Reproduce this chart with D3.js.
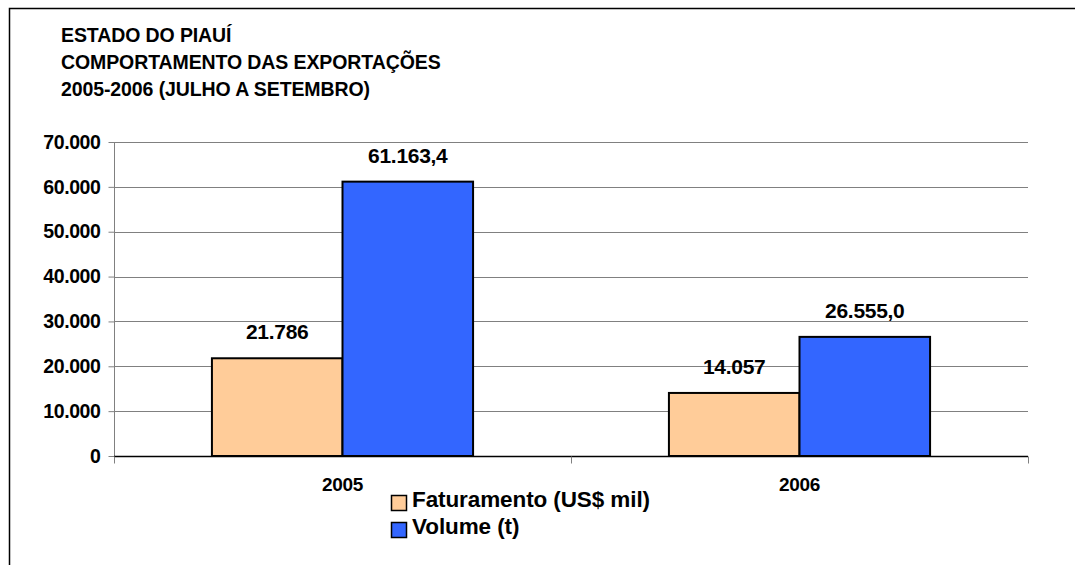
<!DOCTYPE html>
<html>
<head>
<meta charset="utf-8">
<script src="https://cdn.jsdelivr.net/npm/d3@7"></script>
<style>
    body { margin: 0; background: #fff; }
    svg { display: block; font-family: "Liberation Sans", Arial, sans-serif; }
</style>
</head>
<body>
<svg id="chart" width="1075" height="565"></svg>
<script>
const titleLines = ["ESTADO DO PIAUÍ", "COMPORTAMENTO DAS EXPORTAÇÕES", "2005-2006 (JULHO A SETEMBRO)"];
const years = ["2005", "2006"];
const seriesNames = ["Faturamento (US$ mil)", "Volume (t)"];
const faturamento = [21786, 14057];
const volume = [61163.4, 26555.0];
const valueLabels = [["21.786", "14.057"], ["61.163,4", "26.555,0"]];
const yTicks = [0, 10000, 20000, 30000, 40000, 50000, 60000, 70000];
const colors = ["#FFCC99", "#3366FF"];

const svg = d3.select("#chart");
const fmt = d3.formatLocale({ decimal: ",", thousands: ".", grouping: [3], currency: ["", ""] }).format(",");

// outer frame (only top and left edges are visible)
svg.append("path").attr("d", "M9.5,565 L9.5,8.5 L1075,8.5").attr("fill", "none").attr("stroke", "#000").attr("stroke-width", 1.5);

// title
svg.append("g").selectAll("text").data(titleLines).join("text")
    .attr("x", 61).attr("y", (d, i) => 42 + i * 27)
    .attr("font-size", "19.5px").attr("font-weight", "bold").attr("letter-spacing", "-0.1px")
    .text(d => d);

const margin = { left: 114, right: 1028, top: 142, bottom: 456 };

const x0 = d3.scaleBand().domain(years).range([margin.left, margin.right]);
// Excel gap width 150%: band = 3.5 bar widths
const x1 = d3.scaleBand().domain([0, 1])
    .range([x0.bandwidth() * 0.75 / 3.5, x0.bandwidth() * 2.75 / 3.5]);
const y = d3.scaleLinear().domain([0, 70000]).range([margin.bottom, margin.top]);

// gridlines
svg.append("g").selectAll("line").data(yTicks.filter(d => d > 0)).join("line")
    .attr("x1", margin.left).attr("x2", margin.right)
    .attr("y1", d => Math.round(y(d)) + 0.5).attr("y2", d => Math.round(y(d)) + 0.5)
    .attr("stroke", "#808080").attr("stroke-width", 1);

// y axis
const yAxis = svg.append("g").attr("transform", `translate(${margin.left + 0.5},0)`)
    .call(d3.axisLeft(y).tickValues(yTicks).tickFormat(fmt).tickSize(6).tickPadding(8));
yAxis.select(".domain").attr("stroke", "#808080").attr("d", `M0,${margin.top}V${margin.bottom + 7}`);
yAxis.selectAll(".tick line").attr("stroke", "#808080");
yAxis.selectAll("text").attr("font-size", "19.5px").attr("font-weight", "bold").attr("fill", "#000")
    .attr("font-family", "Liberation Sans, Arial, sans-serif").attr("letter-spacing", "-0.4px");

// bars
const data = years.map((yr, i) => ({ yr, vals: [faturamento[i], volume[i]] }));
const groups = svg.append("g").selectAll("g").data(data).join("g")
    .attr("transform", d => `translate(${x0(d.yr)},0)`);
groups.selectAll("rect").data(d => d.vals.map((v, s) => ({ v, s }))).join("rect")
    .attr("x", d => x1(d.s)).attr("width", x1.bandwidth())
    .attr("y", d => y(d.v)).attr("height", d => y(0) - y(d.v))
    .attr("fill", d => colors[d.s]).attr("stroke", "#000").attr("stroke-width", 2);
groups.selectAll("text").data((d, i) => d.vals.map((v, s) => ({ v, s, label: valueLabels[s][i] }))).join("text")
    .attr("x", d => x1(d.s) + x1.bandwidth() / 2).attr("y", d => y(d.v) - 19)
    .attr("text-anchor", "middle").attr("font-size", "21px").attr("font-weight", "bold").attr("letter-spacing", "-0.3px")
    .text(d => d.label);

// x axis
const xAxis = svg.append("g").attr("transform", `translate(0,${margin.bottom + 0.5})`);
xAxis.append("line").attr("x1", margin.left).attr("x2", margin.right).attr("stroke", "#000").attr("stroke-width", 1.5);
xAxis.selectAll("line.tk").data([margin.left, x0("2006"), margin.right]).join("line").attr("class", "tk")
    .attr("x1", d => d + 0.5).attr("x2", d => d + 0.5).attr("y1", 0).attr("y2", 7).attr("stroke", "#808080");
xAxis.selectAll("text").data(years).join("text")
    .attr("x", d => x0(d) + x0.bandwidth() / 2).attr("y", 34.5)
    .attr("text-anchor", "middle").attr("font-size", "19px").attr("font-weight", "bold").attr("letter-spacing", "-0.3px")
    .text(d => d);

// legend
const legend = svg.append("g").attr("transform", "translate(391,495)");
const items = legend.selectAll("g").data(seriesNames).join("g").attr("transform", (d, i) => `translate(0,${i * 27})`);
items.append("rect").attr("x", 0.5).attr("y", 0.5).attr("width", 15).attr("height", 15)
    .attr("fill", (d, i) => colors[i]).attr("stroke", "#000").attr("stroke-width", 1.5);
items.append("text").attr("x", 21).attr("y", 12)
    .attr("font-size", "22.5px").attr("font-weight", "bold").attr("letter-spacing", "-0.1px")
    .text(d => d);
</script>
</body>
</html>
